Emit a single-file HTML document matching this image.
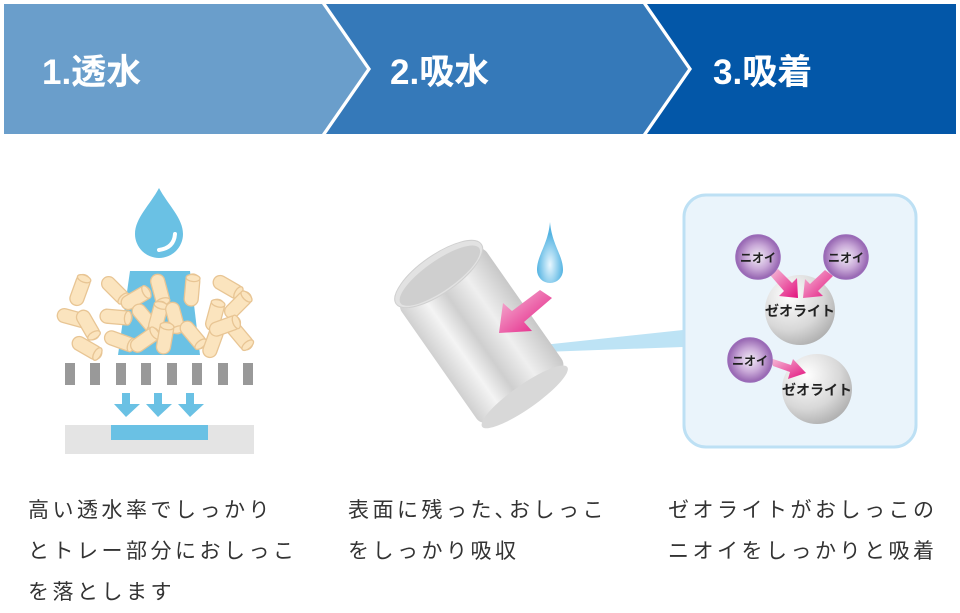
<!DOCTYPE html>
<html><head><meta charset="utf-8"><style>
body{margin:0;background:#fff;width:960px;height:606px;overflow:hidden;font-family:"Liberation Sans","Noto Sans CJK JP",sans-serif}
svg{position:absolute;left:0;top:0}
.t{position:absolute;font-size:21px;color:#333;line-height:41px;letter-spacing:3.5px}
</style></head><body>
<svg width="960" height="606" viewBox="0 0 960 606">
<defs>
<linearGradient id="cyl" x1="0" y1="0" x2="1" y2="0">
<stop offset="0" stop-color="#d0d0d0"/><stop offset=".25" stop-color="#f4f4f4"/><stop offset=".45" stop-color="#cfcfcf"/><stop offset=".7" stop-color="#efefef"/><stop offset="1" stop-color="#c8c8c8"/></linearGradient>
<radialGradient id="ball" cx=".35" cy=".3" r=".8"><stop offset="0" stop-color="#ffffff"/><stop offset=".6" stop-color="#d8d8d8"/><stop offset="1" stop-color="#a8a8a8"/></radialGradient>
<radialGradient id="odor" cx=".5" cy=".5" r=".55"><stop offset="0" stop-color="#f3eef7"/><stop offset=".5" stop-color="#c9a9d8"/><stop offset="1" stop-color="#8a55a8"/></radialGradient>
<radialGradient id="drop2" cx=".5" cy=".7" r=".5"><stop offset="0" stop-color="#e8f7ff"/><stop offset="1" stop-color="#55b4e2"/></radialGradient>
<linearGradient id="pk" x1="0" y1="0" x2="1" y2="1"><stop offset="0" stop-color="#f6c0da"/><stop offset="1" stop-color="#e3127e"/></linearGradient>
<g id="pel"><rect x="-16" y="-7" width="32" height="14" rx="7" fill="#fbe4be" stroke="#e8c594" stroke-width="1.3"/><ellipse cx="12" cy="0" rx="3.5" ry="7" fill="#fbe4be" stroke="#e8c594" stroke-width="1.3"/></g>
</defs>
<polygon points="4,4 322,4 367,69 322,134 4,134" fill="#6a9ecb"/>
<polygon points="326,4 643,4 688,69 643,134 326,134 371,69" fill="#3579b9"/>
<polygon points="647,4 956,4 956,134 647,134 692,69" fill="#0357a8"/>
<g fill="#fff" font-size="35" font-weight="bold" font-family="Liberation Sans,Noto Sans CJK JP,sans-serif">
<text x="42" y="84">1.透水</text><text x="390" y="84">2.吸水</text><text x="713" y="84">3.吸着</text></g>
<path d="M159,188 C150,205 135,218 135,234 A24,24 0 0 0 183,234 C183,218 168,205 159,188Z" fill="#6ac1e4"/>
<path d="M175,234 Q174,248 159,250" stroke="#fff" stroke-width="4" fill="none" stroke-linecap="round"/>
<polygon points="130,271 190,271 200,355 118,355" fill="#6ac1e4"/>
<g>
<use href="#pel" transform="translate(80,290) rotate(-70)"/>
<use href="#pel" transform="translate(73,318) rotate(15)"/>
<use href="#pel" transform="translate(88,325) rotate(60)"/>
<use href="#pel" transform="translate(87,348) rotate(30)"/>
<use href="#pel" transform="translate(115,290) rotate(45)"/>
<use href="#pel" transform="translate(136,298) rotate(-30)"/>
<use href="#pel" transform="translate(116,317) rotate(5)"/>
<use href="#pel" transform="translate(120,341) rotate(20)"/>
<use href="#pel" transform="translate(145,318) rotate(50)"/>
<use href="#pel" transform="translate(160,290) rotate(75)"/>
<use href="#pel" transform="translate(158,317) rotate(-75)"/>
<use href="#pel" transform="translate(145,340) rotate(-35)"/>
<use href="#pel" transform="translate(192,290) rotate(-85)"/>
<use href="#pel" transform="translate(175,318) rotate(75)"/>
<use href="#pel" transform="translate(193,335) rotate(50)"/>
<use href="#pel" transform="translate(228,287) rotate(30)"/>
<use href="#pel" transform="translate(215,315) rotate(-75)"/>
<use href="#pel" transform="translate(238,305) rotate(-45)"/>
<use href="#pel" transform="translate(240,336) rotate(50)"/>
<use href="#pel" transform="translate(213,342) rotate(-70)"/>
<use href="#pel" transform="translate(225,326) rotate(-20)"/>
<use href="#pel" transform="translate(165,338) rotate(-80)"/>
</g>
<g fill="#999"><rect x="65" y="363" width="10" height="22"/><rect x="90" y="363" width="10" height="22"/><rect x="116" y="363" width="10" height="22"/><rect x="141" y="363" width="10" height="22"/><rect x="167" y="363" width="10" height="22"/><rect x="192" y="363" width="10" height="22"/><rect x="218" y="363" width="10" height="22"/><rect x="243" y="363" width="10" height="22"/></g>
<g fill="#6ac1e4"><polygon points="122,393 130,393 130,404 140,404 126,417 114,404 122,404"/><polygon points="154,393 162,393 162,404 172,404 158,417 146,404 154,404"/><polygon points="186,393 194,393 194,404 204,404 190,417 178,404 186,404"/></g>
<rect x="65" y="425" width="189" height="29" fill="#e4e4e4"/>
<rect x="111" y="425" width="97" height="15" fill="#6ac1e4"/>
<polygon points="515,348 683,330 683,347 515,353" fill="#bde3f5"/>
<g transform="translate(480,333) rotate(-35)">
<rect x="-52" y="-72" width="104" height="150" rx="10" fill="url(#cyl)"/>
<ellipse cx="0" cy="78" rx="52" ry="12" fill="#d8d8d8"/>
<ellipse cx="0" cy="-72" rx="52" ry="19" fill="#e2e2e2" stroke="#d0d0d0"/>
<ellipse cx="0" cy="-70" rx="48" ry="15" fill="#cfcfcf"/>
</g>
<path d="M550,222 C548,245 537,255 537,270 A13,13 0 0 0 563,270 C563,255 552,245 550,222Z" fill="url(#drop2)"/>
<polygon points="540,290 552,298 524,322 532,331 499,333 503,303 512,311" fill="url(#pk)"/>
<rect x="684" y="195" width="232" height="252" rx="22" fill="#eaf4fb" stroke="#bde0f4" stroke-width="3"/>
<circle cx="800" cy="310" r="35" fill="url(#ball)"/>
<circle cx="817" cy="389" r="35" fill="url(#ball)"/>
<polygon points="770,275 778,269 792,283 797,278 798,298 779,296 784,291" fill="url(#pk)"/>
<polygon points="825,270 833,276 818,291 823,296 803,298 805,279 810,284" fill="url(#pk)"/>
<polygon points="770,358 773,366 790,372 788,379 806,373 793,359 791,365" fill="url(#pk)"/>
<g fill="url(#odor)" stroke="#9a6bb8" stroke-width="1.5">
<circle cx="758" cy="257" r="22"/><circle cx="846" cy="257" r="22"/><circle cx="750" cy="360" r="22"/></g>
<g font-size="12" font-weight="bold" fill="#222" text-anchor="middle" font-family="Liberation Sans,Noto Sans CJK JP,sans-serif">
<text x="758" y="262">ニオイ</text><text x="846" y="262">ニオイ</text><text x="750" y="365">ニオイ</text>
<text x="800" y="316" font-size="14">ゼオライト</text><text x="817" y="395" font-size="14">ゼオライト</text></g>
</svg>
<div class="t" style="left:28px;top:490px">高い透水率でしっかり<br>とトレー部分におしっこ<br>を落とします</div>
<div class="t" style="left:348px;top:490px">表面に残った､おしっこ<br>をしっかり吸収</div>
<div class="t" style="left:668px;top:490px">ゼオライトがおしっこの<br>ニオイをしっかりと吸着</div>
</body></html>
